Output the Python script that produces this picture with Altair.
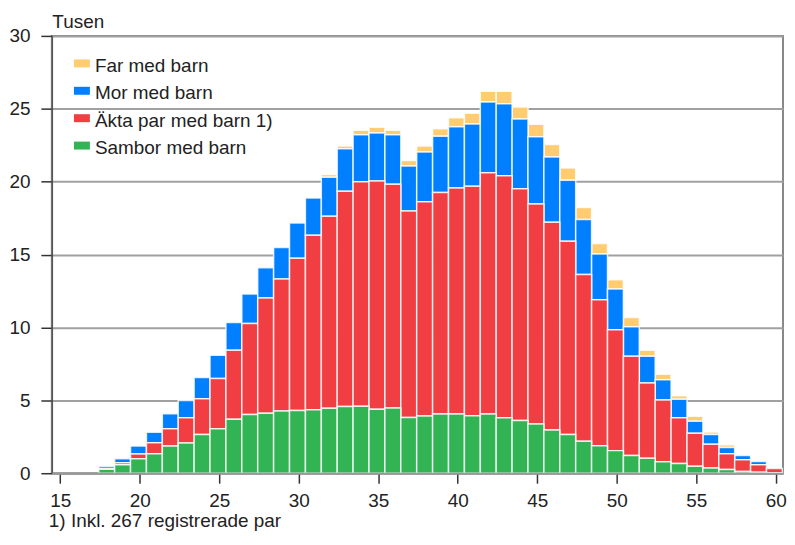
import altair as alt
import pandas as pd

ages = list(range(18, 61))

sambor = [0.27, 0.58, 1.00, 1.33, 1.86, 2.08, 2.65, 3.05, 3.70, 4.03,
          4.12, 4.27, 4.30, 4.35, 4.46, 4.57, 4.60, 4.39, 4.48, 3.83,
          3.92, 4.06, 4.06, 3.94, 4.07, 3.81, 3.61, 3.38, 2.96, 2.65,
          2.20, 1.88, 1.55, 1.21, 1.03, 0.78, 0.67, 0.47, 0.35, 0.25,
          0.12, 0.07, 0.03]
akta = [0.05, 0.14, 0.32, 0.76, 1.19, 1.73, 2.46, 3.45, 4.73, 6.24,
        7.90, 9.05, 10.45, 11.97, 13.16, 14.78, 15.39, 15.65, 15.34, 14.15,
        14.71, 15.19, 15.51, 15.74, 16.55, 16.59, 15.91, 15.09, 14.26, 13.27,
        11.43, 10.02, 8.29, 6.81, 5.16, 4.24, 3.14, 2.28, 1.63, 1.09,
        0.80, 0.51, 0.30]
mor = [0.15, 0.28, 0.54, 0.72, 1.03, 1.17, 1.46, 1.59, 1.91, 2.02,
       2.08, 2.17, 2.42, 2.56, 2.69, 2.91, 3.23, 3.30, 3.40, 3.09,
       3.41, 3.86, 4.19, 4.28, 4.85, 4.95, 4.78, 4.62, 4.48, 4.17,
       3.77, 3.14, 2.80, 2.02, 1.83, 1.39, 1.26, 0.82, 0.67, 0.43,
       0.30, 0.22, 0.0]
far = [0.0, 0.0, 0.0, 0.0, 0.0, 0.0, 0.0, 0.0, 0.0, 0.0,
       0.0, 0.0, 0.0, 0.0, 0.18, 0.18, 0.30, 0.40, 0.30, 0.38,
       0.40, 0.52, 0.63, 0.74, 0.74, 0.86, 0.83, 0.85, 0.85, 0.85,
       0.83, 0.72, 0.63, 0.65, 0.41, 0.38, 0.24, 0.33, 0.17, 0.18,
       0.05, 0.03, 0.0]

series_names = ["Far med barn", "Mor med barn", "Äkta par med barn 1)", "Sambor med barn"]
series_colors = ["#FFCD70", "#0080FF", "#F03E42", "#32B455"]
series_values = [far, mor, akta, sambor]
stack_order = [3, 2, 1, 0]

footnote = "1) Inkl. 267 registrerade par"
y_title = "Tusen"

rows = []
for name, vals, o in zip(series_names, series_values, stack_order):
    for a, v in zip(ages, vals):
        if v > 0:
            rows.append({"age": a, "series": name, "value": v, "ord": o})
df = pd.DataFrame(rows)

FONT = "Liberation Sans"
H = 439
W = 734

bars = alt.Chart(df).transform_stack(
    stack="value", groupby=["age"], as_=["y0", "y1"],
    sort=[alt.SortField("ord", order="ascending")]
).transform_calculate(
    x0="datum.age - 0.58", x1="datum.age + 0.42"
).mark_bar(stroke="white", strokeWidth=1.5, strokeOpacity=0.8).encode(
    x=alt.X("x0:Q",
            scale=alt.Scale(domain=[14.47, 60.46], nice=False, zero=False),
            axis=alt.Axis(values=list(range(15, 61, 5)), title=None, grid=False,
                          tickSize=10, tickColor="#333333", tickWidth=1.5,
                          domainColor="#999999", domainWidth=2,
                          labelPadding=8, labelFontSize=19, labelFont=FONT,
                          labelColor="#222222", zindex=1)),
    x2="x1:Q",
    y=alt.Y("y0:Q",
            scale=alt.Scale(domain=[0, 30], nice=False),
            axis=alt.Axis(values=list(range(0, 31, 5)), title=y_title,
                          titleAngle=0, titleX=0, titleY=-8, titleAlign="left",
                          titleBaseline="alphabetic", titleFontSize=19,
                          titleFont=FONT, titleFontWeight="normal", titleColor="#222222",
                          grid=True, gridColor="#a0a0a0", gridWidth=2,
                          tickSize=11, tickColor="#333333", tickWidth=1.5,
                          domainColor="#555555", domainWidth=1.5,
                          labelPadding=11, labelFontSize=19, labelFont=FONT,
                          labelColor="#222222")),
    y2="y1:Q",
    color=alt.Color("series:N",
                    scale=alt.Scale(domain=series_names, range=series_colors),
                    legend=alt.Legend(orient="none", legendX=20.7, legendY=20.5,
                                      title=None, padding=0,
                                      symbolType="M-1,-0.8L1,-0.8L1,0.2L-1,0.2Z",
                                      symbolSize=256, symbolStrokeWidth=0,
                                      symbolOpacity=1, labelLimit=400,
                                      labelFontSize=19, labelFont=FONT,
                                      labelColor="#222222", labelOffset=3.6,
                                      rowPadding=7.5)),
)

note = alt.Chart(pd.DataFrame({"t": [footnote]})).mark_text(
    align="left", baseline="alphabetic", fontSize=19, font=FONT, color="#222222"
).encode(text="t:N", x=alt.value(-3), y=alt.value(H + 54))

chart = alt.layer(bars, note).properties(
    width=W, height=H,
    autosize=alt.AutoSizeParams(type="none"),
    padding={"left": 44, "top": 27, "right": 4, "bottom": 58},
).configure_view(stroke="#888888", strokeWidth=2)

chart.save("out.html", embed_options={"renderer": "svg", "actions": False})
